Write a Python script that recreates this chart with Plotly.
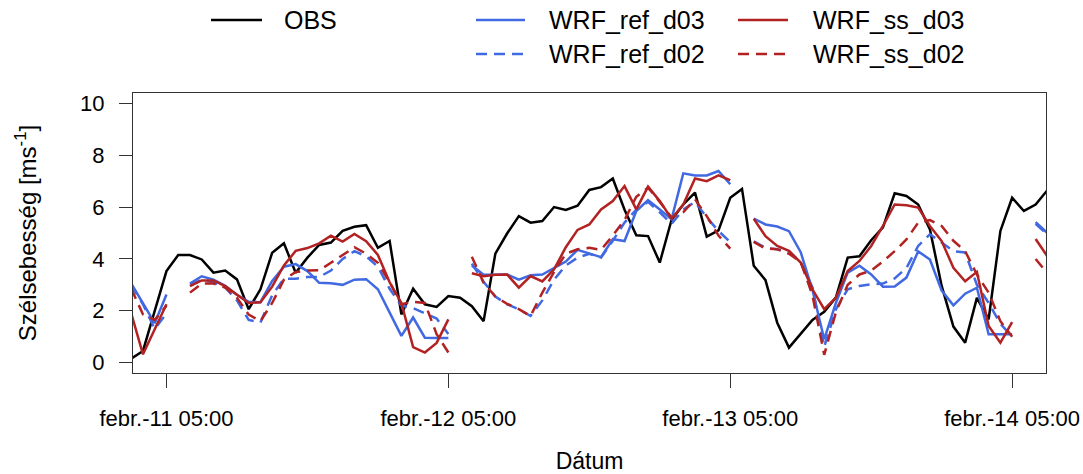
import pandas as pd
import plotly.graph_objects as go

# hourly time axis (Feb 11 02:00 .. Feb 14 08:00)
times = pd.date_range("2020-02-11 02:00", periods=79, freq="h")
NA = None

obs = [0.15, 0.45, 2.0, 3.53, 4.15, 4.15, 3.98, 3.47, 3.55, 3.21, 2.06, 2.83, 4.24, 4.6, 3.47, 4.05,
       4.54, 4.63, 5.08, 5.24, 5.3, 4.43, 4.69, 1.86, 2.85, 2.25, 2.15, 2.57, 2.5, 2.18, 1.6, 4.2,
       4.98, 5.65, 5.4, 5.46, 6.0, 5.89, 6.05, 6.66, 6.77, 7.1, 5.9, 4.91, 4.88, 3.86, 5.5, 6.1,
       6.56, 4.86, 5.1, 6.36, 6.7, 3.74, 3.18, 1.54, 0.58, 1.1, 1.65, 1.96, 2.52, 4.05, 4.1, 4.72,
       5.22, 6.53, 6.43, 6.1, 5.14, 2.96, 1.39, 0.77, 2.5, 1.67, 5.08, 6.36, 5.85, 6.1, 6.65]

ref_d03 = [3.05, 2.28, 1.52, 2.63, NA, 3.05, 3.33, 3.2, 2.96, 2.62, 2.35, 2.33, 3.15, 3.7, 3.8, 3.53,
           3.08, 3.06, 3.0, 3.2, 3.22, 2.83, 1.9, 1.03, 1.74, 0.96, 0.95, 0.95, NA, 3.75, 3.39, 3.39,
           3.4, 3.2, 3.37, 3.4, 3.66, 3.9, 4.35, 4.2, 4.07, 4.76, 4.69, 5.85, 6.27, 5.91, 5.53, 7.3,
           7.22, 7.22, 7.39, 6.88, NA, 5.55, 5.33, 5.25, 5.07, 4.26, 2.8, 0.9, 2.31, 3.47, 3.74, 3.4,
           2.93, 2.94, 3.28, 4.29, 3.98, 2.78, 2.21, 2.66, 2.89, 1.09, 1.09, 1.09, NA, 5.42, 5.0]

ref_d02 = [3.0, 2.25, 1.3, 1.9, NA, 3.0, 3.2, 3.1, 2.9, 2.4, 1.65, 1.55, 2.6, 3.24, 3.24, 3.3,
           3.3, 3.55, 4.0, 4.3, 4.1, 3.7, 2.85, 2.2, 2.1, 1.9, 1.7, 1.1, NA, 3.82, 3.12, 2.55,
           2.25, 2.06, 1.8, 2.4, 3.2, 3.75, 4.05, 4.2, 4.05, 4.7, 5.4, 5.9, 6.2, 5.8, 5.35, 5.9,
           6.2, 5.6, 5.08, 4.65, NA, 4.68, 4.43, 4.37, 4.3, 3.86, 2.9, 0.6, 2.06, 2.83, 2.96, 3.02,
           3.05, 3.25, 3.65, 4.5, 4.95, 4.63, 4.3, 4.25, 3.0, 2.3, 1.5, 1.0, NA, 5.35, 4.95]

ss_d03 = [1.9, 0.32, 1.29, 2.25, NA, 2.95, 3.17, 3.17, 2.95, 2.62, 2.3, 2.33, 2.93, 3.75, 4.31, 4.42,
          4.6, 4.9, 4.67, 4.96, 4.68, 4.15, 3.1, 2.3, 0.6, 0.39, 0.76, 1.67, NA, 3.45, 3.33, 3.39,
          3.4, 2.89, 3.34, 3.13, 3.6, 4.45, 5.12, 5.33, 5.91, 6.23, 6.81, 5.91, 6.79, 6.23, 5.55, 6.1,
          7.1, 7.0, 7.22, 7.04, NA, 5.55, 4.88, 4.5, 4.31, 3.86, 2.83, 2.06, 2.51, 3.53, 3.92, 4.5,
          5.27, 6.1, 6.07, 5.98, 5.27, 4.69, 3.66, 3.14, 3.5, 1.41, 0.77, 1.56, NA, 4.77, 4.1]

ss_d02 = [2.85, 1.86, 1.65, 2.2, NA, 2.7, 3.05, 3.05, 2.9, 2.5, 1.85, 1.6, 2.3, 3.2, 3.5, 3.55,
          3.56, 3.85, 4.15, 4.45, 4.2, 3.85, 3.1, 2.25, 2.35, 2.3, 1.1, 0.39, NA, 4.08, 3.08, 2.55,
          2.27, 2.06, 1.8, 2.7, 3.5, 4.2, 4.37, 4.43, 4.35, 4.9, 5.5, 6.4, 6.75, 6.2, 5.6, 5.8,
          6.3, 5.65, 4.9, 4.4, NA, 4.66, 4.4, 4.37, 4.2, 3.88, 2.6, 0.3, 1.95, 3.0, 3.4, 3.55,
          3.9, 4.3, 4.75, 5.4, 5.5, 5.27, 4.7, 4.3, 3.4, 2.7, 1.6, 1.0, NA, 4.0, 3.45]

tick_times = ["2020-02-11 05:00", "2020-02-12 05:00", "2020-02-13 05:00", "2020-02-14 05:00"]
tick_labels = ["febr.-11 05:00", "febr.-12 05:00", "febr.-13 05:00", "febr.-14 05:00"]
y_ticks = [0, 2, 4, 6, 8, 10]

BLUE = "#4169E1"
RED = "#B22222"
DASH = "11px,7px"
FONT = "Liberation Sans, Arial, sans-serif"

series = [
    ("OBS", obs, "black", "solid"),
    ("WRF_ref_d03", ref_d03, BLUE, "solid"),
    ("WRF_ref_d02", ref_d02, BLUE, DASH),
    ("WRF_ss_d03", ss_d03, RED, "solid"),
    ("WRF_ss_d02", ss_d02, RED, DASH),
]

fig = go.Figure()
for name, vals, col, dash in series:
    fig.add_trace(go.Scatter(x=times, y=vals, mode="lines", name=name,
                             line=dict(color=col, width=2.5, dash=dash),
                             connectgaps=False, showlegend=False))

# manual legend (R-style, three columns)
L, W, T, H = 133, 913, 93, 280
def px(x):
    return (x - L) / W
def py(y):
    return (T + H - y) / H

legend_items = [
    ("OBS", "black", "solid", 211, 262, 282, 20),
    ("WRF_ref_d03", BLUE, "solid", 476, 525, 547, 20),
    ("WRF_ref_d02", BLUE, DASH, 476, 525, 547, 54),
    ("WRF_ss_d03", RED, "solid", 738, 788, 811, 20),
    ("WRF_ss_d02", RED, DASH, 738, 788, 811, 54),
]
shapes = []
annotations = []
for name, col, dash, x0, x1, xt, yy in legend_items:
    shapes.append(dict(type="line", xref="paper", yref="paper",
                       x0=px(x0), x1=px(x1), y0=py(yy), y1=py(yy),
                       line=dict(color=col, width=2.5, dash=dash)))
    annotations.append(dict(text=name, xref="paper", yref="paper", x=px(xt), y=py(yy),
                            xanchor="left", yanchor="middle", showarrow=False,
                            font=dict(size=25, color="black", family=FONT)))

fig.update_layout(
    width=1083, height=474,
    margin=dict(l=133, r=37, t=93, b=101, autoexpand=False),
    paper_bgcolor="white", plot_bgcolor="white",
    font=dict(family=FONT, size=22, color="black"),
    shapes=shapes, annotations=annotations,
)
fig.update_xaxes(
    type="date", range=["2020-02-11 02:09", "2020-02-14 07:53"],
    tickmode="array", tickvals=tick_times, ticktext=tick_labels,
    ticks="outside", ticklen=14, tickwidth=1, tickcolor="#333",
    showline=True, mirror=True, linecolor="#333", linewidth=1,
    showgrid=False, zeroline=False, ticklabelstandoff=12, automargin=False,
    tickfont=dict(size=22),
    title=dict(text="Dátum", font=dict(size=23), standoff=24),
)
fig.update_yaxes(
    range=[-0.4, 10.4], tickmode="array", tickvals=y_ticks,
    ticks="outside", ticklen=13, tickwidth=1, tickcolor="#333",
    showline=True, mirror=True, linecolor="#333", linewidth=1,
    showgrid=False, zeroline=False, ticklabelstandoff=10, automargin=False,
    tickfont=dict(size=22),
    title=dict(text="Szélsebesség [ms<sup>-1</sup>]", font=dict(size=24), standoff=36),
)

fig.write_html("out.html")
